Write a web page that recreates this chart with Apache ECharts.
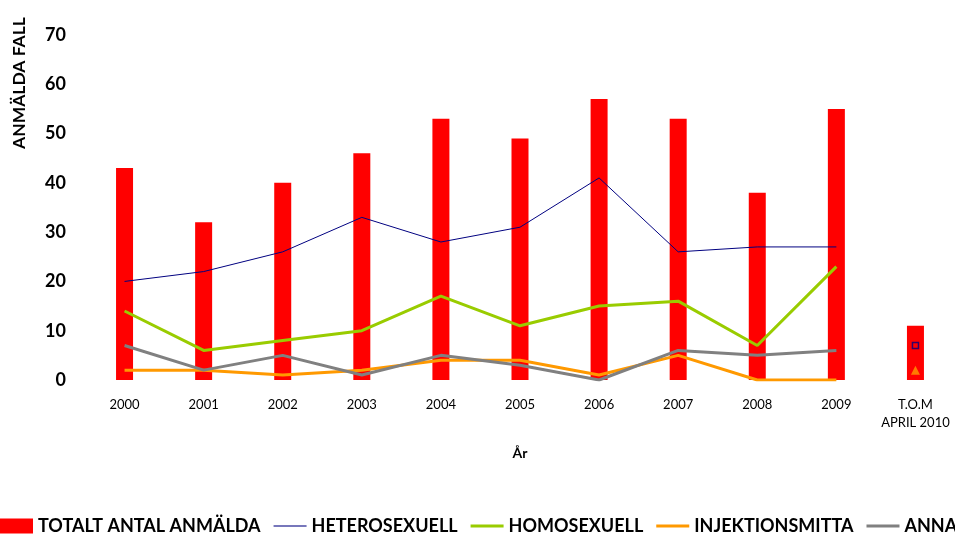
<!DOCTYPE html>
<html>
<head>
<meta charset="utf-8">
<script src="https://cdn.jsdelivr.net/npm/echarts@6/dist/echarts.min.js"></script>
<style>html,body{margin:0;padding:0;background:#fff}#c{width:955px;height:536px}</style>
</head>
<body>
<div id="c"></div>
<script>
var categories = ['2000','2001','2002','2003','2004','2005','2006','2007','2008','2009','T.O.M\nAPRIL 2010'];
var yTicks = [0,10,20,30,40,50,60,70];
var totalt = [43,32,40,46,53,49,57,53,38,55,11];
var hetero = [20,22,26,33,28,31,41,26,27,27,7];
var homo = [14,6,8,10,17,11,15,16,7,23,null];
var injektion = [2,2,1,2,4,4,1,5,0,0,2];
var annat = [7,2,5,1,5,3,0,6,5,6,null];
var seriesNames = ['TOTALT ANTAL ANMÄLDA','HETEROSEXUELL','HOMOSEXUELL','INJEKTIONSMITTA','ANNAT'];

function lineData(arr){ return arr.map(function(v,i){ return i < 10 ? v : null; }); }
function pointData(arr){ return arr.map(function(v,i){ return i === 10 ? v : null; }); }

var FONT = 'Lato';
var LINE_ICON = 'path://M0,0H33V3H0Z';
var THIN_ICON = 'path://M0,0H33V2H0Z';
var chart = echarts.init(document.getElementById('c'));
chart.setOption({
  animation: false,
  textStyle: {fontFamily: FONT},
  grid: {left: 85, right: 0, top: 35, bottom: 156},
  legend: {
    data: [
      {name: seriesNames[0], icon: 'rect'},
      {name: seriesNames[1], icon: THIN_ICON},
      {name: seriesNames[2], icon: LINE_ICON},
      {name: seriesNames[3], icon: LINE_ICON},
      {name: seriesNames[4], icon: LINE_ICON}
    ],
    left: 0, top: 517, width: 1600, padding: 0,
    itemWidth: 33, itemHeight: 15, itemGap: 13, symbolKeepAspect: true,
    textStyle: {fontFamily: FONT, fontWeight: 'bold', fontSize: 18, color: '#000'}
  },
  graphic: [{
    type: 'text', x: 10, y: 149, rotation: Math.PI/2,
    style: {text: 'ANMÄLDA FALL', font: 'bold 17.5px Lato', fill: '#000', textAlign: 'left', textVerticalAlign: 'top'}
  }],
  xAxis: {
    type: 'category', data: categories,
    name: 'År', nameLocation: 'middle', nameGap: 66,
    nameTextStyle: {fontFamily: FONT, fontWeight: 'bold', fontSize: 14, color: '#000'},
    axisLine: {show: false}, axisTick: {show: false},
    axisLabel: {fontFamily: FONT, fontSize: 13, color: '#000', margin: 16, lineHeight: 18, interval: 0}
  },
  yAxis: {
    type: 'value', min: yTicks[0], max: yTicks[yTicks.length-1], interval: 10,
    axisLine: {show: false}, axisTick: {show: false}, splitLine: {show: false},
    axisLabel: {fontFamily: FONT, fontWeight: 'bold', fontSize: 18, color: '#000', margin: 19}
  },
  series: [
    {name: seriesNames[0], type: 'bar', data: totalt, barWidth: 17, itemStyle: {color: '#FF0000'}},
    {name: seriesNames[1], type: 'line', data: lineData(hetero), symbol: 'none', lineStyle: {color: '#000080', width: 1}, itemStyle: {color: '#7777BB'}},
    {name: seriesNames[2], type: 'line', data: lineData(homo), symbol: 'none', lineStyle: {color: '#99CC00', width: 3}, itemStyle: {color: '#99CC00'}},
    {name: seriesNames[3], type: 'line', data: lineData(injektion), symbol: 'none', lineStyle: {color: '#FF9900', width: 3}, itemStyle: {color: '#FF9900'}},
    {name: seriesNames[4], type: 'line', data: lineData(annat), symbol: 'none', lineStyle: {color: '#808080', width: 3}, itemStyle: {color: '#808080'}},
    {name: 'hetero2010', type: 'scatter', data: pointData(hetero), symbol: 'rect', symbolSize: 6, itemStyle: {color: 'rgba(0,0,0,0)', borderColor: '#000080', borderWidth: 1.5}},
    {name: 'injektion2010', type: 'scatter', data: pointData(injektion), symbol: 'triangle', symbolSize: 9, itemStyle: {color: '#FF9900'}}
  ]
});
</script>
</body>
</html>
